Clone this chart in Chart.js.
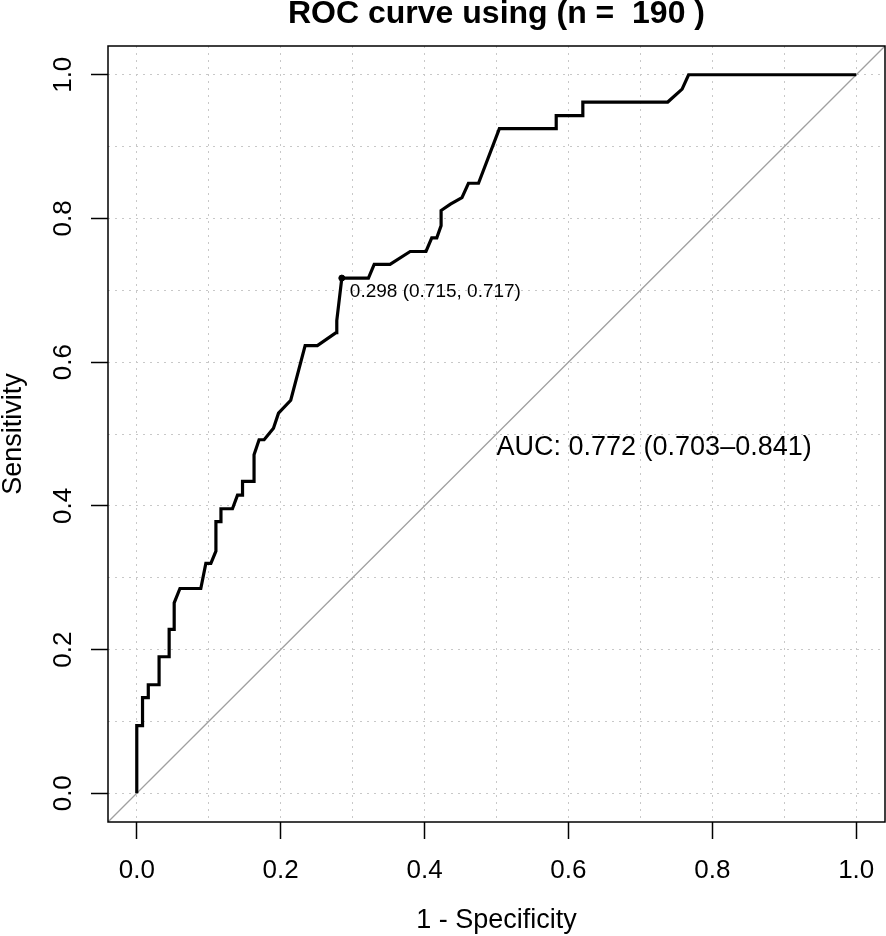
<!DOCTYPE html>
<html>
<head>
<meta charset="utf-8">
<script src="https://cdn.jsdelivr.net/npm/chart.js@4.4.1/dist/chart.umd.min.js"></script>
<style>
  html, body { margin: 0; padding: 0; background: #fff; overflow: hidden; }
  #wrap { width: 886px; height: 936px; }
  canvas { display: block; }
</style>
</head>
<body>
<div id="wrap"><canvas id="rocChart"></canvas></div>
<script>
// 1 - specificity (false positive rate)
const fpr = [
  0, 0, 0.008, 0.008, 0.016, 0.016, 0.031, 0.031, 0.045, 0.045,
  0.052, 0.052, 0.06, 0.089, 0.096, 0.103, 0.11, 0.11, 0.117, 0.117,
  0.133, 0.14, 0.147, 0.147, 0.163, 0.163, 0.17, 0.177, 0.19, 0.197,
  0.214, 0.234, 0.251, 0.277, 0.278, 0.285, 0.322, 0.33, 0.352, 0.38,
  0.402, 0.41, 0.417, 0.423, 0.423, 0.436, 0.452, 0.461, 0.475, 0.504,
  0.583, 0.583, 0.62, 0.62, 0.738, 0.758, 0.767, 1.0
];
const sensitivity = [
  0, 0.094, 0.094, 0.133, 0.133, 0.151, 0.151, 0.19, 0.19, 0.228,
  0.228, 0.265, 0.285, 0.285, 0.32, 0.32, 0.337, 0.378, 0.378, 0.396,
  0.396, 0.415, 0.415, 0.434, 0.434, 0.471, 0.492, 0.492, 0.508, 0.529,
  0.547, 0.623, 0.623, 0.641, 0.658, 0.717, 0.717, 0.736, 0.736, 0.754,
  0.754, 0.773, 0.773, 0.79, 0.811, 0.82, 0.829, 0.849, 0.849, 0.925,
  0.925, 0.943, 0.943, 0.962, 0.962, 0.98, 1.0, 1.0
];

const gridValues = [0, 0.1, 0.2, 0.3, 0.4, 0.5, 0.6, 0.7, 0.8, 0.9, 1.0];
const tickLabels = ["0.0", "0.2", "0.4", "0.6", "0.8", "1.0"];

// best threshold: threshold, specificity, sensitivity
const bestPoint = [0.298, 0.715, 0.717];
// AUC with 95% CI
const aucValues = [0.772, 0.703, 0.841];
const sampleSize = 190;

const axisMin = -0.04;
const axisMax = 1.04;
const fontName = '"Liberation Sans", Arial, Helvetica, sans-serif';

const curvePoints = fpr.map((x, i) => ({ x: x, y: sensitivity[i] }));

function labelFor(value) {
  const idx = Math.round(value * 10);
  return idx % 2 === 0 ? tickLabels[idx / 2] : "";
}

function isLabelled(value) {
  return Math.round(value * 10) % 2 === 0;
}

const rocExtras = {
  id: "rocExtras",
  afterDatasetsDraw(chart) {
    const { ctx, chartArea: a, scales: { x, y } } = chart;
    ctx.save();

    // plot box
    ctx.strokeStyle = "#000";
    ctx.lineWidth = 1.5;
    ctx.strokeRect(a.left, a.top, a.right - a.left, a.bottom - a.top);

    // rotated y tick labels (R style)
    ctx.fillStyle = "#000";
    ctx.font = "26px " + fontName;
    ctx.textAlign = "center";
    ctx.textBaseline = "alphabetic";
    y.ticks.forEach(t => {
      if (!isLabelled(t.value)) return;
      const py = y.getPixelForValue(t.value);
      ctx.save();
      ctx.translate(a.left - 37.5, py);
      ctx.rotate(-Math.PI / 2);
      ctx.fillText(labelFor(t.value), 0, 0);
      ctx.restore();
    });

    // best threshold label
    const bx = x.getPixelForValue(1 - bestPoint[1]);
    const by = y.getPixelForValue(bestPoint[2]);
    ctx.font = "19px " + fontName;
    ctx.textAlign = "left";
    ctx.fillText(bestPoint[0].toFixed(3) + " (" + bestPoint[1].toFixed(3) + ", " + bestPoint[2].toFixed(3) + ")", bx + 8, by + 18.5);

    // AUC
    ctx.font = "27px " + fontName;
    ctx.fillText("AUC: " + aucValues[0].toFixed(3) + " (" + aucValues[1].toFixed(3) + "\u2013" + aucValues[2].toFixed(3) + ")",
      x.getPixelForValue(0.5), y.getPixelForValue(0.5) + 20.5);

    ctx.restore();
  }
};

function gridSetup(scale) {
  scale.ticks = gridValues.map(v => ({ value: v }));
}

const ctx = document.getElementById("rocChart").getContext("2d");

new Chart(ctx, {
  type: "scatter",
  data: {
    datasets: [
      {
        label: "best",
        data: [{ x: 1 - bestPoint[1], y: bestPoint[2] }],
        pointRadius: 3,
        pointBackgroundColor: "#000",
        pointBorderColor: "#000",
        showLine: false,
        order: 0
      },
      {
        label: "ROC",
        data: curvePoints,
        showLine: true,
        borderColor: "#000",
        borderWidth: 3.2,
        pointRadius: 0,
        tension: 0,
        borderJoinStyle: "miter",
        order: 1
      },
      {
        label: "chance",
        data: [{ x: axisMin, y: axisMin }, { x: axisMax, y: axisMax }],
        showLine: true,
        borderColor: "#a0a0a0",
        borderWidth: 1.3,
        pointRadius: 0,
        order: 3
      }
    ]
  },
  options: {
    responsive: true,
    maintainAspectRatio: false,
    animation: false,
    layout: { autoPadding: false, padding: { left: 0, right: 1, top: 0, bottom: 0 } },
    plugins: {
      legend: { display: false },
      tooltip: { enabled: false },
      title: {
        display: true,
        fullSize: false,
        text: "ROC curve using (n =  " + sampleSize + " )",
        color: "#000",
        font: { family: fontName, size: 32, weight: "bold", lineHeight: 1 },
        padding: { top: -2, bottom: 16 }
      }
    },
    scales: {
      x: {
        type: "linear",
        min: axisMin,
        max: axisMax,
        afterBuildTicks: gridSetup,
        afterFit: scale => {
          scale.height = 114;
          scale.paddingLeft = 0;
          scale.paddingRight = 0;
        },
        border: { display: false, dash: [2, 5] },
        grid: {
          color: "#c8c8c8",
          lineWidth: 1,
          drawTicks: true,
          tickLength: 17,
          tickWidth: 1.5,
          tickColor: c => (c.tick && isLabelled(c.tick.value)) ? "#000" : "rgba(0,0,0,0)"
        },
        ticks: {
          autoSkip: false,
          maxRotation: 0,
          padding: 16,
          color: "#000",
          font: { family: fontName, size: 26 },
          callback: value => labelFor(value)
        },
        title: {
          display: true,
          text: "1 - Specificity",
          color: "#000",
          font: { family: fontName, size: 27, lineHeight: 1 },
          padding: { top: 0, bottom: 2 }
        }
      },
      y: {
        type: "linear",
        min: axisMin,
        max: axisMax,
        afterBuildTicks: gridSetup,
        afterFit: scale => {
          scale.width = 108;
          scale.paddingTop = 0;
          scale.paddingBottom = 0;
        },
        border: { display: false, dash: [2, 5] },
        grid: {
          color: "#c8c8c8",
          lineWidth: 1,
          drawTicks: true,
          tickLength: 17,
          tickWidth: 1.5,
          tickColor: c => (c.tick && isLabelled(c.tick.value)) ? "#000" : "rgba(0,0,0,0)"
        },
        ticks: { display: false, autoSkip: false },
        title: {
          display: true,
          text: "Sensitivity",
          color: "#000",
          font: { family: fontName, size: 27, lineHeight: 1 },
          padding: { top: 0, bottom: 0 }
        }
      }
    }
  },
  plugins: [rocExtras]
});
</script>
</body>
</html>
